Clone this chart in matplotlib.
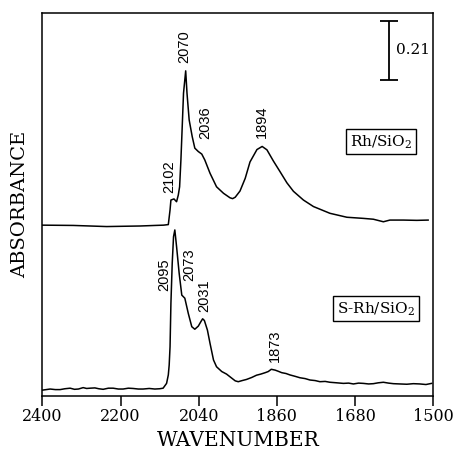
import matplotlib
matplotlib.use("Agg")
import matplotlib.pyplot as plt

plt.rcParams["mathtext.fontset"] = "dejavuserif"

# Rh/SiO2 spectrum (wavenumber, absorbance, offset upward)
upper_wn = [2400, 2329, 2290, 2252, 2215, 2175, 2140, 2121, 2110, 2106, 2104, 2097,
            2091, 2087, 2084, 2081, 2078, 2075, 2070, 2067, 2062, 2055, 2049, 2041,
            2033, 2026, 2014, 1999, 1983, 1968, 1962, 1956, 1945, 1933, 1922, 1906,
            1894, 1883, 1868, 1853, 1837, 1822, 1799, 1776, 1738, 1699, 1661, 1638,
            1615, 1600, 1569, 1538, 1512]
upper_abs = [0.604, 0.603, 0.601, 0.599, 0.600, 0.601, 0.603, 0.604, 0.606, 0.658, 0.693, 0.697,
             0.687, 0.711, 0.740, 0.835, 0.953, 1.072, 1.151, 1.072, 0.977, 0.918, 0.877, 0.865,
             0.856, 0.835, 0.788, 0.740, 0.717, 0.701, 0.698, 0.703, 0.725, 0.770, 0.828, 0.872,
             0.883, 0.871, 0.831, 0.794, 0.754, 0.724, 0.693, 0.670, 0.646, 0.632, 0.628, 0.625,
             0.616, 0.622, 0.622, 0.621, 0.622]

# S-Rh/SiO2 spectrum
lower_wn = [2400, 2382, 2370, 2359, 2348, 2336, 2326, 2317, 2306, 2298, 2290, 2279,
            2270, 2260, 2248, 2237, 2225, 2214, 2202, 2191, 2179, 2168, 2154, 2141,
            2130, 2122, 2114, 2110, 2108, 2106, 2104, 2101, 2098, 2095, 2091, 2085,
            2079, 2072, 2064, 2056, 2049, 2041, 2035, 2031, 2027, 2020, 2014, 2006,
            1999, 1987, 1976, 1966, 1956, 1949, 1940, 1930, 1918, 1907, 1897,
            1887, 1880, 1873, 1864, 1857, 1849, 1839, 1830, 1818, 1807, 1795, 1784,
            1772, 1761, 1749, 1738, 1722, 1707, 1695, 1684, 1672, 1661, 1649, 1638,
            1627, 1615, 1603, 1592, 1577, 1561, 1546, 1531, 1517, 1504]
lower_abs = [0.019, 0.023, 0.021, 0.021, 0.024, 0.026, 0.022, 0.023, 0.028, 0.025, 0.026, 0.027,
             0.024, 0.022, 0.026, 0.026, 0.023, 0.023, 0.026, 0.025, 0.023, 0.023, 0.025, 0.023,
             0.024, 0.026, 0.043, 0.073, 0.108, 0.173, 0.327, 0.469, 0.563, 0.587, 0.528, 0.433,
             0.356, 0.345, 0.291, 0.244, 0.235, 0.246, 0.262, 0.272, 0.266, 0.232, 0.185, 0.126,
             0.102, 0.085, 0.076, 0.064, 0.052, 0.049, 0.053, 0.057, 0.064, 0.072, 0.076,
             0.081, 0.085, 0.093, 0.090, 0.086, 0.081, 0.078, 0.073, 0.068, 0.063, 0.060, 0.055,
             0.053, 0.049, 0.050, 0.047, 0.045, 0.043, 0.044, 0.041, 0.044, 0.043, 0.041, 0.042,
             0.045, 0.047, 0.044, 0.042, 0.041, 0.040, 0.042, 0.041, 0.039, 0.043]

# Peak annotations: text, label x (wavenumber), label base (absorbance)
peak_text = ["2102", "2070", "2036", "1894", "2095", "2073", "2031", "1873"]
peak_x = [2108, 2073, 2026, 1894, 2119, 2062, 2027, 1864]
peak_y = [0.717, 1.178, 0.910, 0.912, 0.372, 0.407, 0.297, 0.120]

sample_names = ["Rh/SiO$_2$", "S-Rh/SiO$_2$"]
sample_x = [1621, 1632]
sample_y = [0.899, 0.307]

tick_pos = [2400, 2220, 2040, 1860, 1680, 1500]
tick_labels = ["2400", "2200", "2040", "1860", "1680", "1500"]

scale_value = 0.21
scale_x = 1603
scale_bottom = 1.119

fig = plt.figure(figsize=(4.56, 4.59), dpi=100)
ax = fig.add_axes([0.0928, 0.1383, 0.8575, 0.8333])

ax.plot(upper_wn, upper_abs, color="black", lw=1.1)
ax.plot(lower_wn, lower_abs, color="black", lw=1.1)

ax.set_xlim(2400, 1500)
ax.set_ylim(0, 1.356)

for s in ax.spines.values():
    s.set_linewidth(1.1)

ax.set_xticks(tick_pos)
ax.set_xticklabels(tick_labels, family="DejaVu Serif", fontsize=11.5)
ax.tick_params(axis="x", direction="out", length=7, width=1.1, pad=2)
ax.set_yticks([])

ax.set_xlabel("WAVENUMBER", family="DejaVu Serif", fontsize=14.5)
ax.xaxis.label.set_va("center")
ax.xaxis.set_label_coords(0.5, -0.1163)
ax.set_ylabel("ABSORBANCE", family="DejaVu Serif", fontsize=14)
ax.yaxis.label.set_va("center")
ax.yaxis.set_label_coords(-0.057, 0.5)

for t, x, y in zip(peak_text, peak_x, peak_y):
    ax.text(x, y, t, rotation=90, ha="center", va="bottom",
            family="Liberation Sans", fontsize=10.5)

for name, x, y in zip(sample_names, sample_x, sample_y):
    ax.text(x, y, name, ha="center", va="center", family="DejaVu Serif", fontsize=11,
            bbox=dict(boxstyle="square,pad=0.25", fc="white", ec="black", lw=1.0))

# absorbance scale bar
ax.errorbar([scale_x], [scale_bottom + scale_value / 2], yerr=[scale_value / 2],
            color="black", lw=1.3, capsize=6.5, capthick=1.3)
ax.text(scale_x - 17, scale_bottom + scale_value / 2, f"{scale_value:.2f}",
        ha="left", va="center", family="DejaVu Serif", fontsize=11)

fig.savefig("out.png", dpi=100)
